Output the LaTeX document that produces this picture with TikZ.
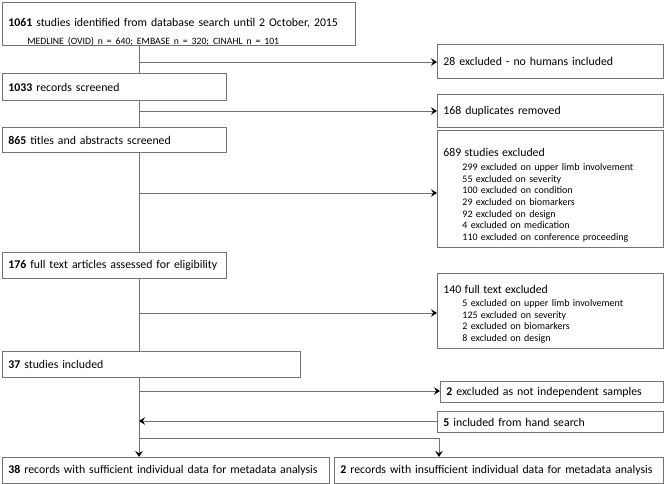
\documentclass[tikz,border=0pt]{standalone}
\usepackage{fontspec}
\setmainfont{Carlito}
\usetikzlibrary{arrows,arrows.meta,shapes,positioning}

\begin{document}
\begin{tikzpicture}[x=1pt,y=-1pt,>={Stealth[length=6pt,width=7.5pt,inset=2.2pt,color=black]},
box node/.style={rectangle,draw=black!55,line width=0.9pt,anchor=north west,align=left,
  inner xsep=6pt,inner ysep=0pt,font=\fontsize{11.8}{14}\selectfont},
sub list/.style={font=\fontsize{10}{11.7}\selectfont},
flow/.style={draw=black!55,line width=0.9pt}]
\useasboundingbox (0,0) rectangle (664,484);

% left column
\node[box node] (n1061) at (2,2) [text width=341pt,minimum height=43pt]
  {\rule{0pt}{24pt}\textbf{1061} studies identified from database search until 2 October, 2015\\[3.5pt]
   {\fontsize{9.7}{11}\selectfont\hspace*{19pt}MEDLINE (OVID) n = 640; EMBASE n = 320; CINAHL n = 101}};
\node[box node] (n1033) at (2,73) [text width=212pt,minimum height=27pt] {\textbf{1033} records screened};
\node[box node] (n865) at (2,127) [text width=212pt,minimum height=25pt] {\textbf{865} titles and abstracts screened};
\node[box node] (n176) at (2,252) [text width=212pt,minimum height=26pt] {\textbf{176} full text articles assessed for eligibility};
\node[box node] (n37) at (2,351) [text width=286pt,minimum height=26pt] {\textbf{37} studies included};
\node[box node] (n38) at (2,457) [text width=315pt,minimum height=26pt] {\textbf{38} records with sufficient individual data for metadata analysis};
\node[box node] (n2rec) at (334,457) [text width=317pt,minimum height=26pt] {\textbf{2} records with insufficient individual data for metadata analysis};

% right column
\node[box node] (ex28) at (437,44) [text width=214pt,minimum height=34pt] {28 excluded - no humans included};
\node[box node] (dup168) at (437,94) [text width=214pt,minimum height=33pt] {168 duplicates removed};
\node[box node,sub list] (ex689) at (437,130) [text width=214pt,minimum height=117pt]
  {\rule{0pt}{21pt}{\fontsize{11.8}{14}\selectfont 689 studies excluded}\\[2.3pt]
   \hspace*{19pt}299 excluded on upper limb involvement\\
   \hspace*{19pt}55 excluded on severity\\
   \hspace*{19pt}100 excluded on condition\\
   \hspace*{19pt}29 excluded on biomarkers\\
   \hspace*{19pt}92 excluded on design\\
   \hspace*{19pt}4 excluded on medication\\
   \hspace*{19pt}110 excluded on conference proceeding};
\node[box node,sub list] (ex140) at (437,273) [text width=214pt,minimum height=75pt]
  {\rule{0pt}{15pt}{\fontsize{11.8}{14}\selectfont 140 full text excluded}\\[1.3pt]
   \hspace*{19pt}5 excluded on upper limb involvement\\
   \hspace*{19pt}125 excluded on severity\\
   \hspace*{19pt}2 excluded on biomarkers\\
   \hspace*{19pt}8 excluded on design};
\node[box node] (ex2) at (440,381) [text width=211pt,minimum height=21pt] {\textbf{2} excluded as not independent samples};
\node[box node] (hand5) at (437,411) [text width=214pt,minimum height=21pt] {\textbf{5} included from hand search};

% points on the main line
\coordinate (b28) at (139,62);
\coordinate (b168) at (139,111);
\coordinate (b689) at (139,193);
\coordinate (b140) at (139,313);
\coordinate (b2) at (139,391);
\coordinate (b5) at (139,421);
\coordinate (split) at (139,438);
\coordinate (turn) at (439,438);

\draw[flow] (n1061.south -| b28) -- (n1033.north -| b28);
\draw[flow] (n1033.south -| b28) -- (n865.north -| b28);
\draw[flow] (n865.south -| b28) -- (n176.north -| b28);
\draw[flow] (n176.south -| b28) -- (n37.north -| b28);
\draw[flow,->] (n37.south -| b28) -- (n38.north -| b28);
\draw[flow,->] (split) -- (turn) -- (turn |- n2rec.north);

\draw[flow,->] (b28) -- (b28 -| ex28.west);
\draw[flow,->] (b168) -- (b168 -| dup168.west);
\draw[flow,->] (b689) -- (b689 -| ex689.west);
\draw[flow,->] (b140) -- (b140 -| ex140.west);
\draw[flow,->] (b2) -- (b2 -| ex2.west);
\draw[flow,->] (hand5.west |- b5) -- (b5);
\end{tikzpicture}
\end{document}
